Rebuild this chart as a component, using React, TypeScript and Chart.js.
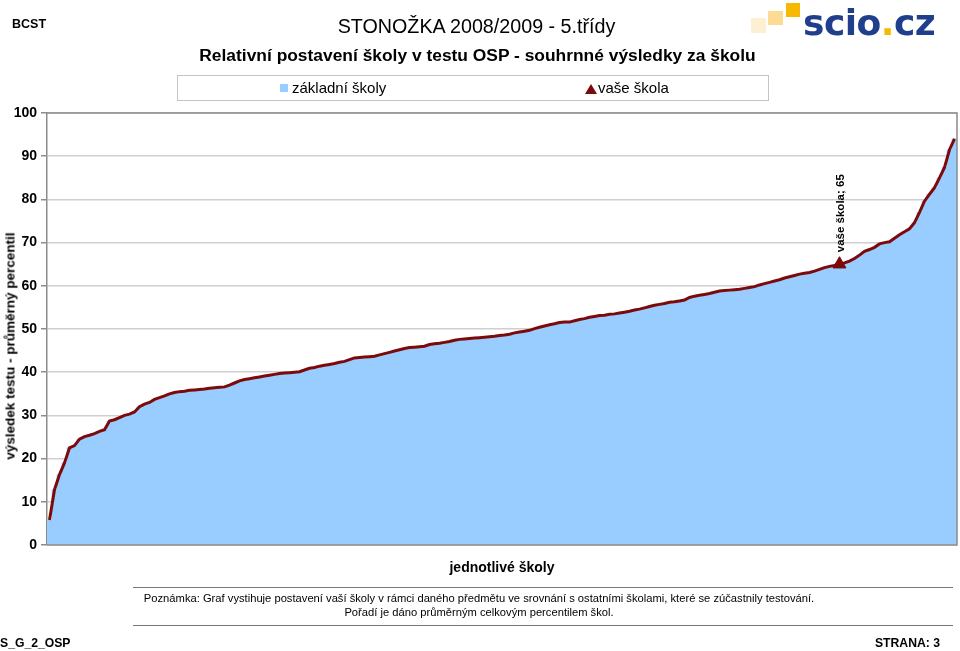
import React, { useEffect, useRef } from "react";
import { Chart, registerables } from "chart.js";

Chart.register(...registerables);

// průměrný percentil jednotlivých škol, seřazeno vzestupně
const schoolValues: number[] = [
  5.8, 12.8, 16.3, 19.0, 22.5, 23.0, 24.5, 25.1, 25.4, 25.8,
  26.3, 26.7, 28.7, 29.0, 29.5, 30.0, 30.3, 30.8, 32.0, 32.6,
  33.0, 33.7, 34.1, 34.5, 35.0, 35.3, 35.5, 35.6, 35.8, 35.9,
  36.0, 36.1, 36.3, 36.4, 36.5, 36.6, 37.0, 37.5, 38.0, 38.3,
  38.5, 38.7, 38.9, 39.1, 39.3, 39.5, 39.7, 39.8, 39.9, 40.0,
  40.1, 40.5, 40.9, 41.1, 41.4, 41.6, 41.8, 42.0, 42.3, 42.5,
  42.9, 43.3, 43.4, 43.5, 43.6, 43.7, 44.0, 44.3, 44.6, 44.9,
  45.2, 45.5, 45.7, 45.8, 45.9, 46.0, 46.4, 46.6, 46.7, 46.9,
  47.1, 47.4, 47.6, 47.7, 47.8, 47.9, 48.0, 48.1, 48.2, 48.3,
  48.5, 48.6, 48.8, 49.1, 49.3, 49.5, 49.7, 50.1, 50.4, 50.7,
  51.0, 51.2, 51.5, 51.6, 51.6, 51.9, 52.2, 52.4, 52.7, 52.9,
  53.1, 53.2, 53.4, 53.5, 53.7, 53.9, 54.1, 54.4, 54.6, 54.9,
  55.2, 55.5, 55.7, 55.9, 56.2, 56.3, 56.5, 56.7, 57.3, 57.6,
  57.8, 58.0, 58.2, 58.5, 58.8, 58.9, 59.0, 59.1, 59.2, 59.4,
  59.6, 59.8, 60.2, 60.5, 60.8, 61.1, 61.4, 61.8, 62.1, 62.4,
  62.7, 62.9, 63.1, 63.4, 63.8, 64.2, 64.5, 64.7, 65.0, 65.3,
  65.7, 66.3, 67.1, 68.0, 68.4, 68.9, 69.7, 70.0, 70.2, 71.0,
  71.8, 72.5, 73.2, 74.6, 77.0, 79.6, 81.2, 82.7, 85.0, 87.4,
  91.5, 94.0,
];
const schoolLabels: string[] = schoolValues.map((_, i) => String(i + 1));
const ourSchoolIndex = 158;
const ourSchoolValue = 65;
const ourSchoolLabel = "vaše škola";
const allSchoolsLabel = "základní školy";
const yMin = 0;
const yMax = 100;
const yStep = 10;

const FONT = '"Liberation Sans", Arial, Helvetica, sans-serif';
const DARK_RED = "#7d0a0a";
const BLUE = "#99ccff";

const framePlugin = {
  id: "frameAndLabel",
  afterDatasetsDraw(chart: any) {
    const { ctx, chartArea } = chart;
    ctx.save();
    ctx.strokeStyle = "#8c8c8c";
    ctx.lineWidth = 1.5;
    ctx.beginPath();
    ctx.moveTo(chartArea.left, chartArea.top);
    ctx.lineTo(chartArea.right, chartArea.top);
    ctx.lineTo(chartArea.right, chartArea.bottom);
    ctx.lineTo(chartArea.left, chartArea.bottom);
    ctx.stroke();
    const meta = chart.getDatasetMeta(2);
    const pt = meta.data[ourSchoolIndex];
    if (pt) {
      ctx.translate(pt.x + 1, pt.y - 12);
      ctx.rotate(-Math.PI / 2);
      ctx.fillStyle = "#000";
      ctx.font = `bold 11.5px ${FONT}`;
      ctx.textAlign = "left";
      ctx.textBaseline = "middle";
      ctx.fillText(`${ourSchoolLabel}; ${ourSchoolValue}`, 0, 0);
    }
    ctx.restore();
  },
};

function ChartCanvas() {
  const ref = useRef<HTMLCanvasElement | null>(null);
  useEffect(() => {
    if (!ref.current) return;
    const marker = schoolValues.map((_, i) => (i === ourSchoolIndex ? ourSchoolValue : null));
    const chart = new Chart(ref.current, {
      type: "bar",
      data: {
        labels: schoolLabels,
        datasets: [
          {
            type: "bar",
            label: allSchoolsLabel,
            data: schoolValues,
            backgroundColor: BLUE,
            borderWidth: 0,
            barPercentage: 1,
            categoryPercentage: 1,
            order: 3,
          } as any,
          {
            type: "line",
            label: "křivka",
            data: schoolValues,
            borderColor: DARK_RED,
            borderWidth: 3,
            pointRadius: 0,
            tension: 0,
            fill: false,
            order: 2,
          } as any,
          {
            type: "line",
            label: ourSchoolLabel,
            data: marker,
            showLine: false,
            pointStyle: "triangle",
            pointRadius: 7.5,
            pointBackgroundColor: DARK_RED,
            pointBorderColor: DARK_RED,
            pointBorderWidth: 1,
            order: 1,
          } as any,
        ],
      },
      options: {
        responsive: false,
        animation: false,
        events: [],
        layout: { autoPadding: false, padding: { left: 0, top: 113, right: 3, bottom: 106 } },
        plugins: {
          legend: { display: false },
          tooltip: { enabled: false },
          title: { display: false },
        },
        scales: {
          x: { display: false },
          y: {
            min: yMin,
            max: yMax,
            afterFit: (scale: any) => {
              scale.width = 47;
            },
            ticks: {
              stepSize: yStep,
              color: "#000",
              font: { family: FONT, size: 14, weight: "bold" },
              padding: 4,
            },
            grid: {
              color: "#cfcfcf",
              lineWidth: 1.5,
              tickColor: "#8c8c8c",
              tickLength: 6,
            },
            border: { color: "#8c8c8c", width: 1.5 },
          },
        },
      },
      plugins: [framePlugin],
    });
    return () => chart.destroy();
  }, []);
  return <canvas ref={ref} width={960} height={651} style={{ position: "absolute", left: 0, top: 0 }} />;
}

const abs = (o: any) => ({ position: "absolute", whiteSpace: "nowrap", fontFamily: FONT, ...o });

export default function App() {
  return (
    <div style={{ position: "fixed", left: 0, top: 0, width: 960, height: 651, background: "#fff", overflow: "hidden" }}>
      <ChartCanvas />
      <div style={abs({ left: 12, top: 17, fontSize: 12.5, fontWeight: "bold" })}>BCST</div>
      <div style={abs({ left: 0, width: 953, top: 15, textAlign: "center", fontSize: 19.7 })}>STONOŽKA 2008/2009 - 5.třídy</div>
      <div style={abs({ left: 0, width: 955, top: 45, textAlign: "center", fontSize: 17.4, fontWeight: "bold" })}>
        Relativní postavení školy v testu OSP - souhrnné výsledky za školu
      </div>
      {/* legend */}
      <div style={{ position: "absolute", left: 177, top: 75, width: 590, height: 24, border: "1px solid #c4c4c4" }} />
      <div style={{ position: "absolute", left: 280, top: 84, width: 8, height: 8, background: BLUE }} />
      <div style={abs({ left: 292, top: 79, fontSize: 15 })}>{allSchoolsLabel}</div>
      <svg style={{ position: "absolute", left: 585, top: 84 }} width={12} height={10}>
        <polygon points="6,0 12,10 0,10" fill={DARK_RED} />
      </svg>
      <div style={abs({ left: 598, top: 79, fontSize: 15 })}>{ourSchoolLabel}</div>
      {/* logo */}
      <div style={{ position: "absolute", left: 751, top: 18, width: 15, height: 15, background: "#fdf0d2" }} />
      <div style={{ position: "absolute", left: 768, top: 11, width: 15, height: 14, background: "#fbdc92" }} />
      <div style={{ position: "absolute", left: 786, top: 3, width: 14, height: 14, background: "#f6b800" }} />
      <div style={abs({ left: 803, top: 2, fontSize: 36, fontWeight: "bold", color: "#1f3f8c", fontFamily: '"DejaVu Sans", sans-serif', letterSpacing: -0.5 })}>
        scio<span style={{ color: "#f6b800" }}>.</span>cz
      </div>
      {/* y title */}
      <div
        style={abs({
          left: 10,
          top: 346,
          fontSize: 13.5,
          fontWeight: "bold",
          transform: "translate(-50%, -50%) rotate(-90deg)",
        })}
      >
        výsledek testu - průměrný percentil
      </div>
      <div style={abs({ left: 47, width: 910, top: 559, textAlign: "center", fontSize: 14, fontWeight: "bold" })}>jednotlivé školy</div>
      {/* note */}
      <div style={{ position: "absolute", left: 133, top: 587, width: 820, height: 37, borderTop: "1.5px solid #777", borderBottom: "1.5px solid #777" }} />
      <div style={abs({ left: 0, width: 958, top: 591, textAlign: "center", fontSize: 11.2, lineHeight: "14px" })}>
        Poznámka: Graf vystihuje postavení vaší školy v rámci daného předmětu ve srovnání s ostatními školami, které se zúčastnily testování.
        <br />
        Pořadí je dáno průměrným celkovým percentilem škol.
      </div>
      <div style={abs({ left: 0, top: 636, fontSize: 12.2, fontWeight: "bold" })}>S_G_2_OSP</div>
      <div style={abs({ right: 20, top: 636, fontSize: 12.2, fontWeight: "bold" })}>STRANA: 3</div>
    </div>
  );
}
